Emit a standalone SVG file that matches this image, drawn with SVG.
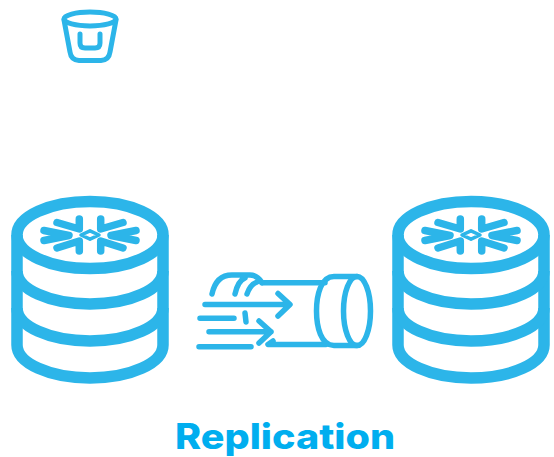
<svg xmlns="http://www.w3.org/2000/svg" width="554" height="457" viewBox="0 0 554 457">
<style>
.s{fill:none;stroke:#2cb5e9;stroke-linecap:round;stroke-linejoin:round}
.c{stroke-width:11.5;stroke-linecap:butt}
.f{stroke-width:7.500}
.p{stroke-width:5.500}
.b{stroke-width:5}
.t{font-family:"Inter","Liberation Sans",sans-serif;font-weight:800;font-size:35px;fill:#00aeef}
</style>
<defs>
<g id="db">
<ellipse class="s c" cx="90" cy="235" rx="73" ry="33.5"/>
<path class="s c" d="M17 235V345A73 33 0 0 0 163 345V235"/>
<path class="s c" d="M17 271A73 33 0 0 0 163 271M17 308A73 33 0 0 0 163 308"/>
<g class="s f">
<path d="M79.300 219V229L57 222.500M100.700 219V229L123 222.500"/>
<path d="M79.300 251V241L57 248M100.700 251V241L123 248"/>
<path d="M44 230.500L69 235.500L44 240.500M136 230.500L111 235.500L136 240.500"/>
</g>
<path class="s" stroke-width="3.500" d="M81 235L90 230.800L99 235L90 239.200Z"/>
</g>
</defs>
<g id="bucket">
<ellipse class="s b" cx="90" cy="19" rx="26" ry="7"/>
<path class="s b" d="M64 20L70 52Q71 60 79 60.500H101Q109 60 110 52L116 20"/>
<path class="s b" d="M80 34V43Q80 48 85 48H95Q100 48 100 43V34"/>
</g>
<g id="source-db"><use href="#db"/></g>
<g id="target-db"><use href="#db" x="381"/></g>
<g id="connectors">
<g id="pipe">
<ellipse class="s p" cx="357" cy="311" rx="13.500" ry="34.500"/>
<path class="s p" d="M357 276.500H334C321 276.500 316.500 295 316.500 311C316.500 327 321 345.500 334 345.500H357"/>
<path class="s p" d="M262 282.700H325M273 341L268 344.500H326"/>
<path class="s p" d="M212 294C215 280 222 275 232 275H250C255 275 259 278 262 282.700M235 294C237 285 240 280 245 278M247 294C249 288 252 284 257 282"/>
<path class="s p" d="M205 304.500H289M278 293.500L290 304.500L278 316M200 318.300H234M245 313L246 322M209 331.700H271M259 321L271 331.700L259 343M199 346.700H251"/>
</g>
</g>
<text id="title" class="t" x="175" y="449" textLength="220" lengthAdjust="spacingAndGlyphs">Replication</text>
</svg>
